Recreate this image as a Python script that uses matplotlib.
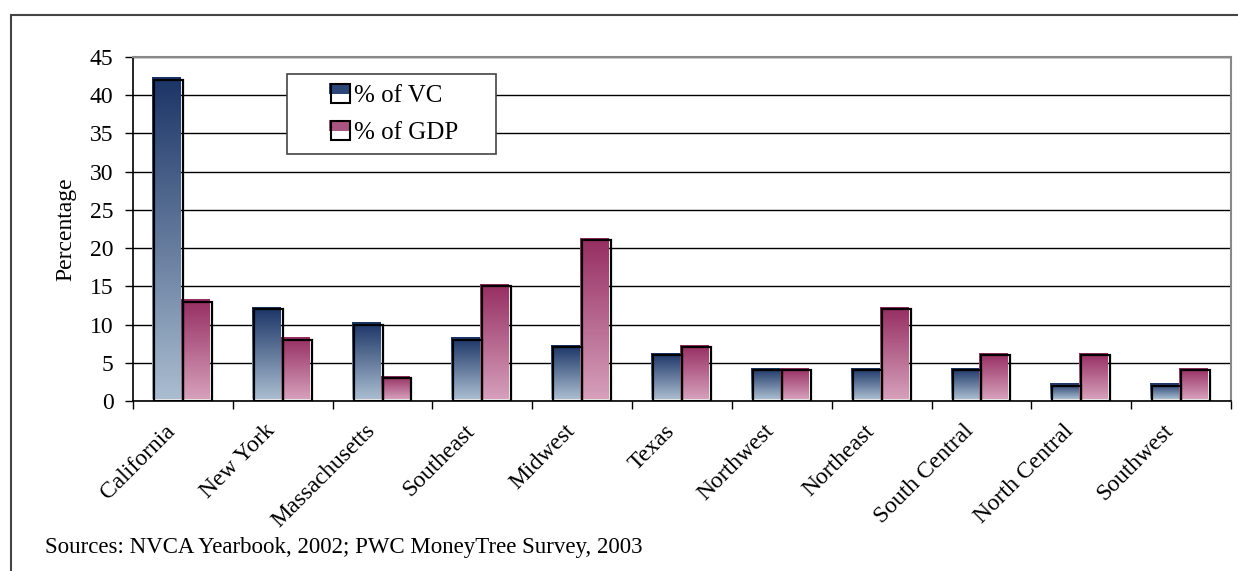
import matplotlib.pyplot as plt
import matplotlib.patches as mpatches
import numpy as np
from matplotlib.colors import LinearSegmentedColormap
from matplotlib.legend_handler import HandlerBase

regions = ['California', 'New York', 'Massachusetts', 'Southeast', 'Midwest', 'Texas',
           'Northwest', 'Northeast', 'South Central', 'North Central', 'Southwest']
vc_pct = [42, 12, 10, 8, 7, 6, 4, 4, 4, 2, 2]
gdp_pct = [13, 8, 3, 15, 21, 7, 4, 12, 6, 6, 4]
yticks = [0, 5, 10, 15, 20, 25, 30, 35, 40, 45]

plt.rcParams['font.family'] = ['Liberation Serif', 'DejaVu Serif']

vc_cmap = LinearSegmentedColormap.from_list('vc', ['#aabdd0', '#1b3466'])
gdp_cmap = LinearSegmentedColormap.from_list('gdp', ['#d6a0bb', '#962e62'])
grad = np.linspace(0, 1, 256).reshape(-1, 1)


class GradHandler(HandlerBase):
    def __init__(self, color):
        super().__init__()
        self.color = color

    def create_artists(self, legend, orig_handle, xdescent, ydescent, width, height, fontsize, trans):
        s = height * 1.0
        x0 = -xdescent + width - s
        y0 = -ydescent
        top = mpatches.Rectangle((x0 - 1, y0 + s * 0.5), s, s * 0.55, facecolor=self.color,
                                 edgecolor='none', transform=trans)
        box = mpatches.Rectangle((x0, y0), s, s, facecolor='none', edgecolor='black',
                                 lw=1.5, transform=trans)
        return [top, box]


fig = plt.figure(figsize=(12.38, 5.71), dpi=100)
ax = fig.add_axes([133/1238, 1 - 401/571, (1231 - 133)/1238, (401 - 57)/571])

bw = 0.29
x = np.arange(len(regions))
dx = 0.02
dy = 0.3
for i in range(len(regions)):
    for val, left, cm in [(vc_pct[i], x[i] - bw, vc_cmap), (gdp_pct[i], x[i], gdp_cmap)]:
        ax.imshow(grad, cmap=cm, origin='lower', aspect='auto', interpolation='bilinear',
                  extent=(left - dx, left + bw - dx, dy, val + dy), zorder=2)
        ax.add_patch(mpatches.Rectangle((left, 0), bw, val, fill=False, edgecolor='black',
                                        lw=1.6, zorder=3))

ax.set_xlim(-0.5, len(regions) - 0.5)
ax.set_ylim(0, 45)
ax.set_yticks(yticks)
ax.yaxis.grid(True, color='black', lw=1)
ax.set_axisbelow(True)
# labels sit a little left of the category centre, as in the original
ax.set_xticks(x - 0.18)
ax.set_xticklabels(regions, rotation=45, ha='right', rotation_mode='anchor', fontsize=17)
ax.set_xticks(np.arange(-0.5, len(regions), 1), minor=True)
ax.tick_params(axis='x', which='major', length=0, pad=14)
ax.tick_params(axis='x', which='minor', length=6, width=1, color='black')
ax.tick_params(axis='y', length=6, width=1, labelsize=17, pad=8)
ax.set_ylabel('Percentage', fontsize=17, labelpad=10)
for side in ['top', 'right']:
    ax.spines[side].set_color('#888888')
    ax.spines[side].set_linewidth(1.5)
ax.spines['left'].set_linewidth(1.2)
ax.spines['bottom'].set_linewidth(1.2)

# legend box drawn separately so the entries sit in the middle like the original
box_l, box_r, box_t, box_b = 287, 496, 74, 154
ax.add_patch(mpatches.Rectangle(((box_l - 133)/1098, (401 - box_b)/344), (box_r - box_l)/1098,
                                (box_b - box_t)/344, transform=ax.transAxes, facecolor='white',
                                edgecolor='#444444', lw=1.2, zorder=4))
h1 = mpatches.Patch(label='% of VC')
h2 = mpatches.Patch(label='% of GDP')
leg = ax.legend(handles=[h1, h2], loc='upper left', bbox_to_anchor=((330 - 133)/1098, (401 - 84)/344),
                fontsize=18, frameon=False,
                handler_map={h1: GradHandler('#2c4677'), h2: GradHandler('#a8557f')},
                handlelength=0.8, handleheight=0.8, handletextpad=0.15, borderpad=0,
                labelspacing=0.55, borderaxespad=0)
leg.set_zorder(5)

fig.text(45/1238, 1 - 548/571, 'Sources: NVCA Yearbook, 2002; PWC MoneyTree Survey, 2003',
         fontsize=16.5, va='center', ha='left')

fig.patches.append(mpatches.Rectangle((11/1238, -0.1), 1.2, 1 - 15/571 + 0.1, fill=False,
                                      edgecolor='#444444', lw=1.5, transform=fig.transFigure))

fig.savefig('out.png', dpi=100)
